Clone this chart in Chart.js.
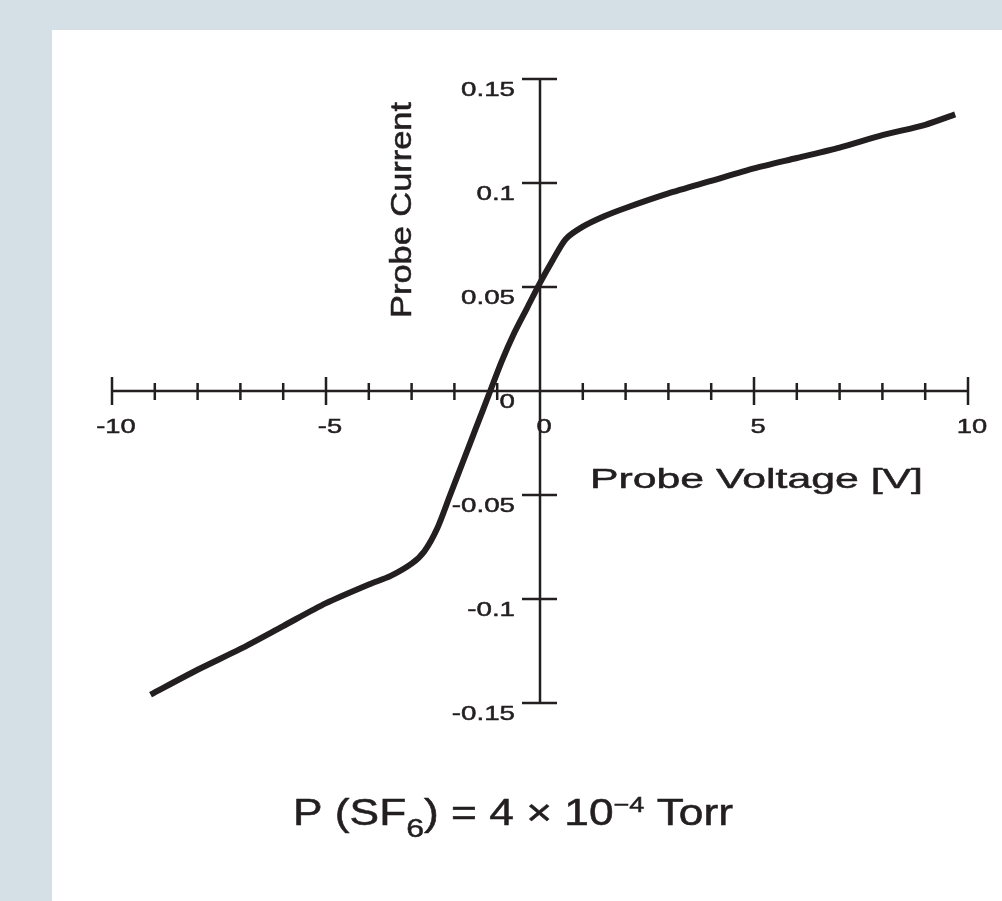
<!DOCTYPE html>
<html>
<head>
<meta charset="utf-8">
<script src="https://cdn.jsdelivr.net/npm/chart.js@4.4.1/dist/chart.umd.min.js"></script>
<style>
  html, body { margin: 0; padding: 0; background: #d5dfe6; width: 1002px; height: 901px; overflow: hidden; }
  #panel { position: absolute; left: 52px; top: 30px; right: 0; bottom: 0; background: #ffffff; }
  #probe { position: absolute; left: 0; top: 0; }
</style>
</head>
<body>
<div id="panel"></div>
<canvas id="probe" width="1002" height="901"></canvas>
<script>
// probe characteristic
const voltage = [-9.1, -8, -7, -6, -5, -4, -3.5, -3, -2.7, -2.4, -2.1, -1.8, -1.5, -1.2, -0.9, -0.6, -0.3, 0, 0.3, 0.6, 1, 1.5, 2, 3, 4, 5, 6, 7, 8, 9, 9.7];
const current = [-0.146, -0.134, -0.124, -0.113, -0.102, -0.093, -0.089, -0.083, -0.077, -0.066, -0.050, -0.034, -0.018, -0.002, 0.014, 0.028, 0.040, 0.052, 0.063, 0.073, 0.079, 0.084, 0.088, 0.095, 0.101, 0.107, 0.112, 0.117, 0.123, 0.128, 0.133];

const xTicks = [-10, -5, 0, 5, 10];
const yTicks = [-0.15, -0.1, -0.05, 0, 0.05, 0.1, 0.15];

const ink = '#231f20';
const face = '"Liberation Sans", Arial, Helvetica, sans-serif';

function stretchText(ctx, text, x, y, size, sx, align, rot) {
  ctx.save();
  ctx.font = size + 'px ' + face;
  ctx.fillStyle = ink;
  ctx.strokeStyle = ink;
  ctx.lineWidth = 0.5;
  ctx.textBaseline = 'alphabetic';
  ctx.textAlign = align;
  ctx.translate(x, y);
  if (rot) ctx.rotate(rot);
  ctx.scale(sx, 1);
  ctx.fillText(text, 0, 0);
  ctx.strokeText(text, 0, 0);
  ctx.restore();
}

function widthOf(ctx, text, size) {
  ctx.font = size + 'px ' + face;
  return ctx.measureText(text).width;
}

const crossAxes = {
  id: 'crossAxes',
  afterDraw(chart) {
    const ctx = chart.ctx;
    const xs = chart.scales.x, ys = chart.scales.y;
    const x0 = xs.getPixelForValue(0), y0 = ys.getPixelForValue(0);
    ctx.save();
    ctx.strokeStyle = ink;
    ctx.lineWidth = 2.5;
    ctx.beginPath();
    ctx.moveTo(xs.getPixelForValue(-10), y0);
    ctx.lineTo(xs.getPixelForValue(10), y0);
    ctx.moveTo(x0, ys.getPixelForValue(0.15));
    ctx.lineTo(x0, ys.getPixelForValue(-0.15));
    // x ticks, one per volt, longer every 5
    xs.ticks.forEach(t => {
      const px = xs.getPixelForValue(t.value);
      const major = Math.abs(t.value % 5) < 1e-9;
      ctx.moveTo(px, y0 - (major ? 14 : 8));
      ctx.lineTo(px, y0 + (major ? 14 : 9));
    });
    ys.ticks.forEach(t => {
      const py = ys.getPixelForValue(t.value);
      ctx.moveTo(x0 - 18, py);
      ctx.lineTo(x0 + 17, py);
    });
    ctx.stroke();
    ctx.restore();

    xTicks.forEach(v => {
      stretchText(ctx, String(v), xs.getPixelForValue(v) + 4, y0 + 42, 21, 1.3, 'center');
    });
    yTicks.forEach(v => {
      const lbl = String(Number(v.toFixed(2)));
      stretchText(ctx, lbl, x0 - 25, ys.getPixelForValue(v) + 17, 21, 1.32, 'right');
    });

    // axis names
    const wc = widthOf(ctx, 'Probe Current', 29);
    stretchText(ctx, 'Probe Current', 411, 318, 29, 216 / wc, 'left', -Math.PI / 2);
    const wv = widthOf(ctx, 'Probe Voltage [V]', 28);
    stretchText(ctx, 'Probe Voltage [V]', 590, 488, 28, 333 / wv, 'left');

    // caption with sub/superscript
    const parts = [
      ['P (SF', 36, 0],
      ['6', 26, 12],
      [') = 4 \u00d7 10', 36, 0],
      ['\u22124', 22, -13],
      [' Torr', 36, 0]
    ];
    let total = 0;
    parts.forEach(p => { total += widthOf(ctx, p[0], p[1]); });
    const sx = 440 / total;
    let cx = 293;
    parts.forEach(p => {
      stretchText(ctx, p[0], cx, 825 + p[2], p[1], sx, 'left');
      cx += widthOf(ctx, p[0], p[1]) * sx;
    });
  }
};

new Chart(document.getElementById('probe'), {
  type: 'scatter',
  data: {
    datasets: [{
      label: 'Probe Current',
      data: voltage.map((v, i) => ({ x: v, y: current[i] })),
      showLine: true,
      borderColor: ink,
      backgroundColor: ink,
      borderWidth: 6,
      pointRadius: 0,
      tension: 0.25
    }]
  },
  options: {
    responsive: false,
    animation: false,
    layout: { padding: { left: 112, right: 34, top: 79, bottom: 198 } },
    plugins: { legend: { display: false }, tooltip: { enabled: false } },
    scales: {
      x: {
        type: 'linear',
        position: { y: 0 },
        min: -10, max: 10,
        ticks: { display: false, stepSize: 1, autoSkip: false },
        grid: { display: false, drawTicks: false },
        border: { display: false }
      },
      y: {
        type: 'linear',
        position: { x: 0 },
        min: -0.15, max: 0.15,
        ticks: { display: false, stepSize: 0.05 },
        grid: { display: false, drawTicks: false },
        border: { display: false }
      }
    }
  },
  plugins: [crossAxes]
});
</script>
</body>
</html>
